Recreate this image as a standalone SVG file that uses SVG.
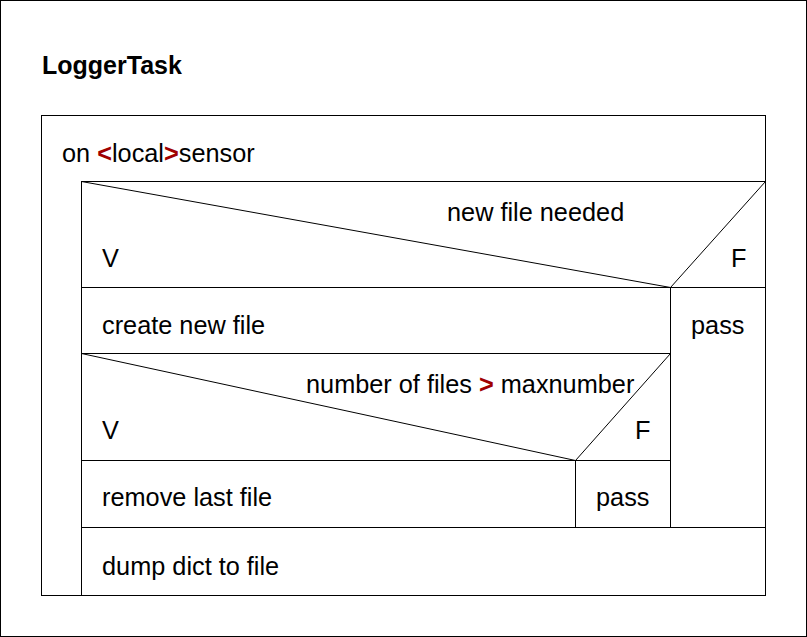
<svg xmlns="http://www.w3.org/2000/svg" width="807" height="637" viewBox="0 0 807 637">
<style>
  .ln{fill:none;stroke:#000;stroke-width:1}
  .t{font-family:"Liberation Sans",Arial,sans-serif;font-size:25.3px;fill:#000}
  .r{fill:#a00000;font-weight:bold}
  .title{font-family:"Liberation Sans",Arial,sans-serif;font-size:25px;font-weight:bold;fill:#000}
</style>
<rect x="0" y="0" width="807" height="637" fill="#fff"/>
<rect class="ln" x="0.5" y="0.5" width="806" height="636"/>
<text class="title" x="42" y="74">LoggerTask</text>
<g id="loop">
  <rect class="ln" x="41.5" y="115.5" width="724" height="480"/>
  <text class="t" x="62" y="162">on <tspan class="r">&lt;</tspan>local<tspan class="r">&gt;</tspan>sensor</text>
</g>
<g id="decision1">
  <rect class="ln" x="81.5" y="181.5" width="684" height="106"/>
  <line class="ln" x1="81.5" y1="181.5" x2="670.5" y2="287.5"/>
  <line class="ln" x1="765.5" y1="181.5" x2="670.5" y2="287.5"/>
  <text class="t" x="447" y="221">new file needed</text>
  <text class="t" x="102" y="267">V</text>
  <text class="t" x="731" y="267">F</text>
</g>
<g id="create">
  <rect class="ln" x="81.5" y="287.5" width="589" height="66"/>
  <text class="t" x="102" y="334">create new file</text>
</g>
<g id="pass1">
  <rect class="ln" x="670.5" y="287.5" width="95" height="240"/>
  <text class="t" x="691" y="334">pass</text>
</g>
<g id="decision2">
  <rect class="ln" x="81.5" y="353.5" width="589" height="107"/>
  <line class="ln" x1="81.5" y1="353.5" x2="575.5" y2="460.5"/>
  <line class="ln" x1="670.5" y1="353.5" x2="575.5" y2="460.5"/>
  <text class="t" x="306" y="393">number of files <tspan class="r">&gt;</tspan> maxnumber</text>
  <text class="t" x="102" y="439">V</text>
  <text class="t" x="635" y="439">F</text>
</g>
<g id="remove">
  <rect class="ln" x="81.5" y="460.5" width="494" height="67"/>
  <text class="t" x="102" y="506">remove last file</text>
</g>
<g id="pass2">
  <rect class="ln" x="575.5" y="460.5" width="95" height="67"/>
  <text class="t" x="596" y="506">pass</text>
</g>
<g id="dump">
  <rect class="ln" x="81.5" y="527.5" width="684" height="68"/>
  <text class="t" x="102" y="575">dump dict to file</text>
</g>
<g id="connectors"></g>
</svg>
